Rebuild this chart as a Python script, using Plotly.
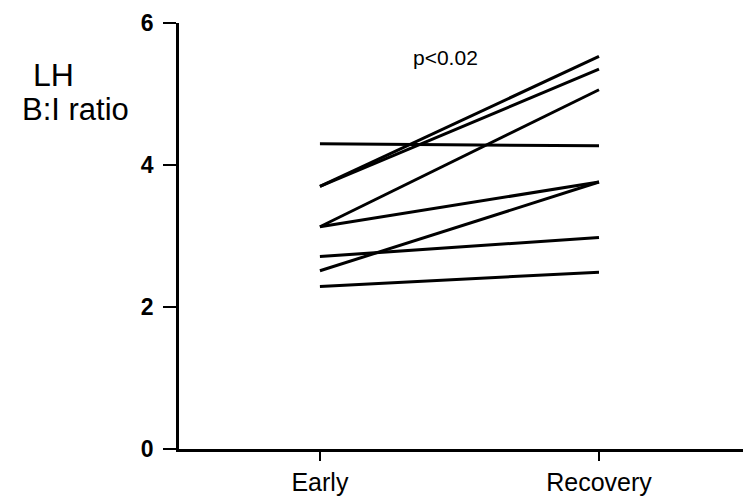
import plotly.graph_objects as go

# LH B:I ratio per subject, early phase vs recovery
phases = ["Early", "Recovery"]
early = [4.30, 3.70, 3.70, 3.13, 3.13, 2.71, 2.51, 2.29]
recovery = [4.27, 5.53, 5.35, 5.06, 3.76, 2.98, 3.76, 2.49]
y_ticks = [0, 2, 4, 6]

fig = go.Figure()
for e, r in zip(early, recovery):
    fig.add_trace(go.Scatter(
        x=[0, 1], y=[e, r], mode="lines",
        line=dict(color="black", width=3),
        showlegend=False, hoverinfo="skip",
    ))

font_family = "Liberation Sans, Arial, sans-serif"

# plot area: x 179..743 px, y 23..449 px
PW, PH = 564, 426


def px(x):
    return (x - 179) / PW


def py(y):
    return (449 - y) / PH


fig.update_layout(
    width=743, height=498,
    margin=dict(l=179, r=0, t=23, b=49),
    paper_bgcolor="white", plot_bgcolor="white",
    font=dict(family=font_family, color="black"),
    xaxis=dict(
        range=[-0.505, 1.516],
        tickmode="array", tickvals=[0, 1], ticktext=phases,
        showgrid=False, zeroline=False,
        showline=True, linecolor="black", linewidth=2.5,
        ticks="outside", ticklen=9, tickwidth=2, tickcolor="black",
        tickfont=dict(size=25, family=font_family),
        ticklabelstandoff=0,
    ),
    yaxis=dict(
        range=[0, 6],
        tickmode="array", tickvals=y_ticks,
        ticktext=[f"<b>{v}</b>" for v in y_ticks],
        showgrid=False, zeroline=False,
        showline=True, linecolor="black", linewidth=2.5,
        ticks="outside", ticklen=13, tickwidth=2, tickcolor="black",
        tickfont=dict(size=23, family=font_family),
        ticklabelstandoff=5,
    ),
    annotations=[
        dict(text="LH", xref="paper", yref="paper",
             x=px(53), y=py(75),
             showarrow=False, xanchor="center", yanchor="middle",
             font=dict(size=32, family=font_family)),
        dict(text="B:I ratio", xref="paper", yref="paper",
             x=px(75), y=py(110),
             showarrow=False, xanchor="center", yanchor="middle",
             font=dict(size=31, family=font_family)),
        dict(text="p<0.02", xref="paper", yref="paper",
             x=px(445), y=py(58),
             showarrow=False, xanchor="center", yanchor="middle",
             font=dict(size=21, family=font_family)),
    ],
)

fig.write_html("out.html")
